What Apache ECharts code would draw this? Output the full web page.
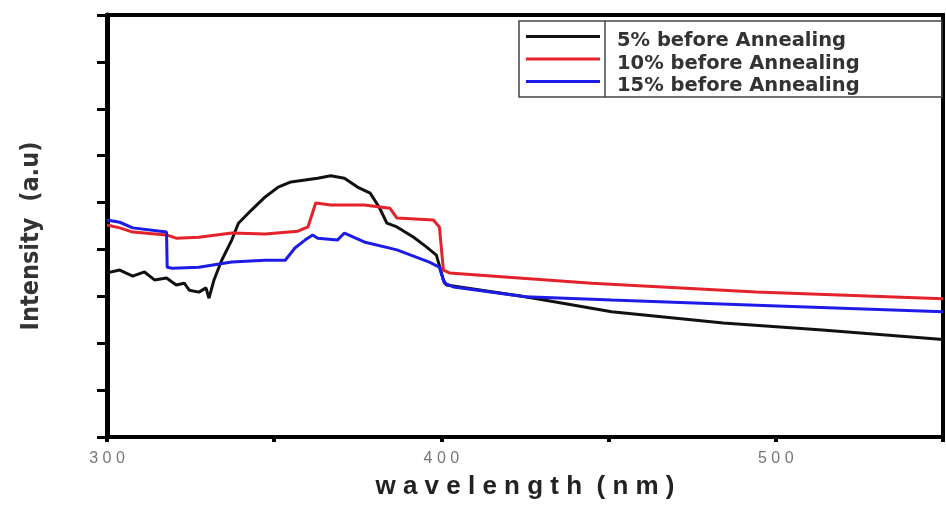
<!DOCTYPE html>
<html>
<head>
<meta charset="utf-8">
<script src="https://cdn.jsdelivr.net/npm/echarts@6/dist/echarts.min.js"></script>
<style>
  html, body { margin: 0; padding: 0; background: #fff; }
  #chart { width: 946px; height: 506px; }
</style>
</head>
<body>
<div id="chart"></div>
<script>
// wavelength (nm) and intensity (a.u.)
const wl5 = [300, 303.8, 307.7, 311.2, 314.2, 317.8, 320.7, 323.1, 324.6, 327.5, 329.6, 330.5, 332, 334.3, 337.3, 339.3, 343.2, 347.3, 351.2, 355, 359.2, 363, 366.9, 371, 374.9, 378.7, 381.4, 383.7, 386.7, 391.7, 395.6, 398.5, 400.6, 401.5, 425.1, 450.9, 484.3, 513.9, 550];
const int5 = [3.50, 3.56, 3.43, 3.52, 3.35, 3.39, 3.24, 3.28, 3.13, 3.09, 3.18, 2.96, 3.35, 3.77, 4.20, 4.56, 4.84, 5.12, 5.33, 5.44, 5.48, 5.52, 5.57, 5.52, 5.33, 5.20, 4.90, 4.56, 4.48, 4.26, 4.05, 3.88, 3.35, 3.24, 2.99, 2.67, 2.43, 2.28, 2.08];

const wl10 = [300, 303.8, 307.7, 317.8, 320.7, 327.5, 337.3, 347.3, 357.1, 360.1, 362.4, 366.9, 376.9, 384.6, 386.7, 397.6, 399.4, 400.6, 402.4, 445, 494.1, 550];
const int10 = [4.52, 4.46, 4.37, 4.31, 4.24, 4.26, 4.35, 4.33, 4.39, 4.48, 4.99, 4.95, 4.95, 4.88, 4.67, 4.63, 4.48, 3.56, 3.50, 3.28, 3.09, 2.95];

const wl15 = [300, 303.8, 307.7, 317.8, 318, 319.5, 327.5, 337.3, 347.3, 353.3, 356.2, 359.2, 361.5, 363, 368.9, 371, 376.9, 386.7, 396.4, 399.4, 400.9, 403.6, 425.1, 450.9, 494.1, 550];
const int15 = [4.63, 4.58, 4.46, 4.37, 3.62, 3.60, 3.62, 3.73, 3.77, 3.77, 4.03, 4.20, 4.31, 4.24, 4.20, 4.35, 4.16, 3.99, 3.73, 3.62, 3.28, 3.20, 2.99, 2.92, 2.81, 2.67];

const seriesNames = ["5% before Annealing", "10% before Annealing", "15% before Annealing"];
const colors = ["#111111", "#e3222b", "#1c1ce6"];

const zip = (xs, ys) => xs.map((x, i) => [x, ys[i]]);
// the original prints its axis texts letter-spaced
const spaced = (s) => String(s).split("").join(" ");

const myChart = echarts.init(document.getElementById("chart"));

const seriesItem = {
  type: "line",
  symbol: "none",
  smooth: false,
  data: [],
};

const dataList = [zip(wl5, int5), zip(wl10, int10), zip(wl15, int15)];
const seriesItemArr = dataList.map((d, i) => ({
  ...seriesItem,
  name: seriesNames[i],
  data: d,
  lineStyle: { width: 3, color: colors[i] },
  itemStyle: { color: colors[i] },
}));

const option = {
  backgroundColor: "#fff",
  color: colors,
  animation: false,
  grid: {
    left: 107,
    top: 15,
    right: -7,
    bottom: 69,
    show: true,
    borderColor: "#000",
    borderWidth: 4,
  },
  legend: {
    orient: "vertical",
    left: 521,
    top: 26,
    // line sits a little above the text, like in the original
    icon: "path://M0,0 L74,0 L74,3 L0,3 Z M0,12 L0.01,12 Z",
    itemWidth: 74,
    itemHeight: 22,
    itemGap: 2.5,
    data: seriesNames,
    textStyle: {
      fontFamily: "DejaVu Sans",
      fontWeight: "bold",
      fontSize: 19.5,
      color: "#333",
      padding: [0, 0, 0, 12],
    },
  },
  graphic: [
    {
      type: "rect",
      shape: { x: 519, y: 21, width: 423, height: 76 },
      style: { fill: "none", stroke: "#444", lineWidth: 1.5 },
      z: 10,
    },
    {
      type: "line",
      shape: { x1: 605, y1: 21, x2: 605, y2: 97 },
      style: { stroke: "#444", lineWidth: 1.5 },
      z: 10,
    },
  ],
  xAxis: {
    type: "value",
    min: 300,
    max: 550,
    interval: 50,
    name: spaced("wavelength") + "  " + spaced("(nm)"),
    nameLocation: "middle",
    nameGap: 37,
    nameTextStyle: {
      fontFamily: "Liberation Sans",
      fontWeight: "bold",
      fontSize: 26,
      color: "#222",
    },
    axisLine: { show: true, lineStyle: { color: "#000", width: 4 } },
    axisTick: { show: true, length: 5, lineStyle: { color: "#000", width: 4 } },
    axisLabel: {
      margin: 14,
      fontFamily: "Liberation Sans",
      fontSize: 16,
      color: "#777",
      formatter: (v) => (v % 100 === 0 ? spaced(v) : ""),
    },
    splitLine: { show: false },
  },
  yAxis: {
    type: "value",
    min: 0,
    max: 9,
    interval: 1,
    name: "Intensity  (a.u)",
    nameLocation: "middle",
    nameGap: 63,
    nameTextStyle: {
      fontFamily: "DejaVu Sans Condensed",
      fontWeight: "bold",
      fontSize: 25,
      color: "#333",
      padding: [0, 20, 0, 0],
    },
    axisLine: { show: true, lineStyle: { color: "#000", width: 5 } },
    axisTick: { show: true, length: 10, lineStyle: { color: "#000", width: 3 } },
    axisLabel: { show: false },
    splitLine: { show: false },
  },
  series: seriesItemArr,
};

myChart.setOption(option);
</script>
</body>
</html>
